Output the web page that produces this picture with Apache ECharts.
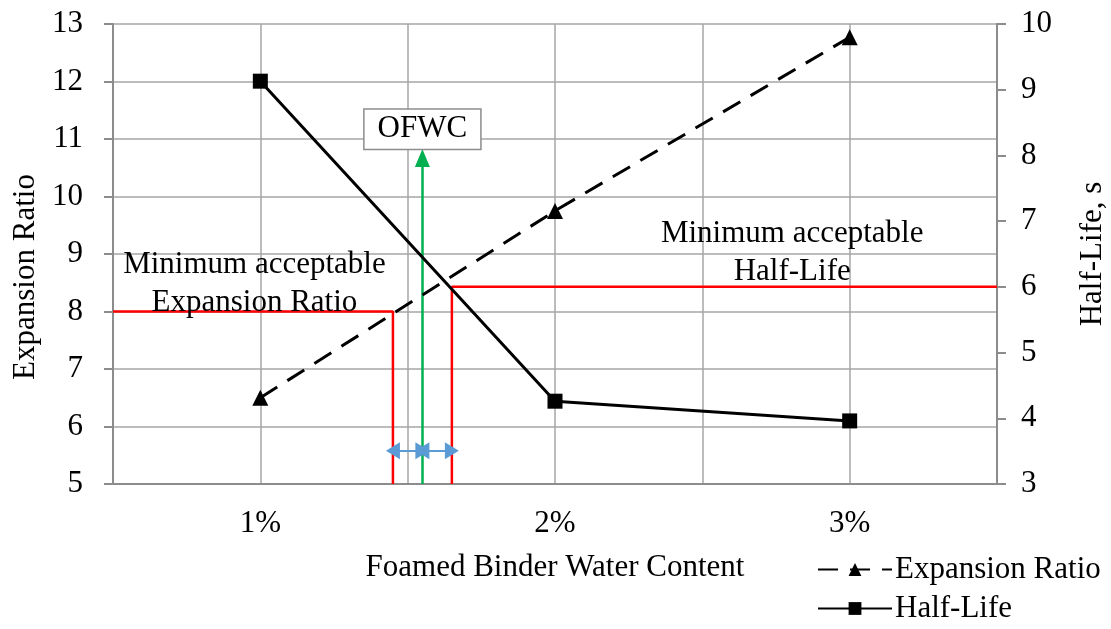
<!DOCTYPE html>
<html>
<head>
<meta charset="utf-8">
<script src="https://cdn.jsdelivr.net/npm/echarts@6/dist/echarts.min.js"></script>
<style>
html,body{margin:0;padding:0;background:#fff;}
#chart{width:1111px;height:629px;}
</style>
</head>
<body>
<div id="chart"></div>
<script>
// ---- data ----
var categories = ['1%', '2%', '3%'];
var categoryPositions = [1, 2, 3];
var expansionRatio = [6.5, 9.75, 12.77];
var halfLife = [9.13, 4.26, 3.96];
var minExpansionRatio = 8;
var minHalfLife = 6;
var erLimitWater = 1.45;   // water content where ER reaches minimum
var hlLimitWater = 1.65;   // water content where HL reaches minimum
var ofwcWater = 1.55;      // optimum foaming water content
var ofwcArrowTop = 10.67;
var ofwcLabelY = 11.17;
var rangeArrowY = 5.58;
var leftTicks = [5, 13];
var rightTicks = [3, 10];
var xRange = [0.5, 3.5];

var FONT = 'Liberation Serif';
var FS = 31;

function pairs(xs, ys) { return xs.map(function (x, i) { return [x, ys[i]]; }); }

var chart = echarts.init(document.getElementById('chart'), null, {renderer: 'canvas'});

var blueLine = {color: '#5b9bd5', width: 2, type: 'solid'};
var option = {
  backgroundColor: '#ffffff',
  animation: false,
  textStyle: {fontFamily: FONT, color: '#000'},
  grid: {left: 113, right: 114, top: 24, bottom: 145, containLabel: false, outerBoundsMode: 'none'},
  legend: {
    orient: 'vertical',
    left: 812, top: 549, height: 120,
    itemWidth: 74, itemHeight: 16, itemGap: 8,
    textStyle: {fontFamily: FONT, fontSize: FS, color: '#000', padding: [0, 0, 0, -2]},
    data: ['Expansion Ratio', 'Half-Life']
  },
  xAxis: {
    type: 'value', min: xRange[0], max: xRange[1], interval: 0.5,
    name: 'Foamed Binder Water Content', nameLocation: 'middle', nameGap: 68,
    nameTextStyle: {fontFamily: FONT, fontSize: FS, color: '#000'},
    axisLine: {lineStyle: {color: '#8c8c8c', width: 2}},
    axisTick: {show: false},
    axisLabel: {
      fontFamily: FONT, fontSize: FS, color: '#000', margin: 24,
      formatter: function (v) {
        var i = categoryPositions.indexOf(v);
        return i >= 0 ? categories[i] : '';
      }
    },
    splitLine: {show: true, lineStyle: {color: '#a6a6a6', width: 1.5}}
  },
  yAxis: [{
    type: 'value', min: leftTicks[0], max: leftTicks[1], interval: 1,
    name: 'Expansion Ratio', nameLocation: 'middle', nameGap: 72,
    nameTextStyle: {fontFamily: FONT, fontSize: FS, color: '#000', padding: [0, 46, 0, 0]},
    axisLine: {show: true, lineStyle: {color: '#8c8c8c', width: 2}},
    axisTick: {show: true, inside: false, length: 9, lineStyle: {color: '#8c8c8c', width: 2}},
    axisLabel: {fontFamily: FONT, fontSize: FS, color: '#000', margin: 30},
    splitLine: {show: true, lineStyle: {color: '#a6a6a6', width: 1.5}}
  }, {
    type: 'value', min: rightTicks[0], max: rightTicks[1], interval: 1,
    name: 'Half-Life, s', nameLocation: 'middle', nameGap: 80,
    nameTextStyle: {fontFamily: FONT, fontSize: FS, color: '#000'},
    axisLine: {show: true, lineStyle: {color: '#8c8c8c', width: 2}},
    axisTick: {show: true, inside: false, length: 9, lineStyle: {color: '#8c8c8c', width: 2}},
    axisLabel: {fontFamily: FONT, fontSize: FS, color: '#000', margin: 24},
    splitLine: {show: false}
  }],
  series: [
    {
      name: 'Min ER', type: 'line', yAxisIndex: 0, silent: true,
      data: [[xRange[0], minExpansionRatio], [erLimitWater, minExpansionRatio], [erLimitWater, leftTicks[0]]],
      symbol: 'none', lineStyle: {color: '#ff0000', width: 2.5}, z: 3,
      markPoint: {
        symbol: 'circle', symbolSize: 0,
        label: {show: true, position: 'top', distance: -10, fontFamily: FONT, fontSize: FS, color: '#000',
                lineHeight: 38, align: 'center'},
        data: [{coord: [0.98, minExpansionRatio], value: 0,
                label: {formatter: 'Minimum acceptable\nExpansion Ratio'}}]
      }
    },
    {
      name: 'Min HL', type: 'line', yAxisIndex: 1, silent: true,
      data: [[xRange[1], minHalfLife], [hlLimitWater, minHalfLife], [hlLimitWater, rightTicks[0]]],
      symbol: 'none', lineStyle: {color: '#ff0000', width: 2.5}, z: 3,
      markPoint: {
        symbol: 'circle', symbolSize: 0,
        label: {show: true, position: 'top', distance: -4, fontFamily: FONT, fontSize: FS, color: '#000',
                lineHeight: 38, align: 'center'},
        data: [{coord: [2.805, minHalfLife], value: 0,
                label: {formatter: 'Minimum acceptable\nHalf-Life'}}]
      }
    },
    {
      name: 'OFWC', type: 'line', yAxisIndex: 0, silent: true,
      data: [], symbol: 'none', z: 4,
      markLine: {
        silent: true, animation: false,
        symbol: ['triangle', 'triangle'], symbolSize: [17, 14],
        label: {show: false},
        data: [
          [{coord: [ofwcWater, leftTicks[0]], symbol: 'none',
            lineStyle: {color: '#00b050', width: 2.5, type: 'solid'}},
           {coord: [ofwcWater, ofwcArrowTop], symbol: 'triangle', symbolSize: [15, 18]}],
          [{coord: [erLimitWater, rangeArrowY], symbol: 'triangle', symbolSize: [17, 14], lineStyle: blueLine},
           {coord: [ofwcWater, rangeArrowY], symbol: 'triangle', symbolSize: [17, 14]}],
          [{coord: [ofwcWater, rangeArrowY], symbol: 'triangle', symbolSize: [17, 14], lineStyle: blueLine},
           {coord: [hlLimitWater, rangeArrowY], symbol: 'triangle', symbolSize: [17, 14]}]
        ]
      },
      markPoint: {
        symbol: 'circle', symbolSize: 0,
        label: {show: true, position: 'inside', fontFamily: FONT, fontSize: FS, color: '#000',
                backgroundColor: '#fff', borderColor: '#8c8c8c', borderWidth: 1.5,
                padding: [5, 13, 3, 13]},
        data: [{coord: [ofwcWater, ofwcLabelY], value: 0, label: {formatter: 'OFWC'}}]
      }
    },
    {
      name: 'Expansion Ratio', type: 'line', yAxisIndex: 0,
      data: pairs(categoryPositions, expansionRatio),
      symbol: 'triangle', symbolSize: 16,
      itemStyle: {color: '#000'},
      lineStyle: {color: '#000', width: 3, type: [20, 12]}, z: 5
    },
    {
      name: 'Half-Life', type: 'line', yAxisIndex: 1,
      data: pairs(categoryPositions, halfLife),
      symbol: 'rect', symbolSize: 15,
      itemStyle: {color: '#000'},
      lineStyle: {color: '#000', width: 3}, z: 5
    }
  ]
};
chart.setOption(option);
</script>
</body>
</html>
